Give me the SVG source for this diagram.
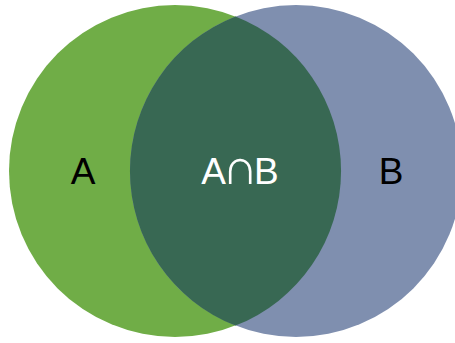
<svg xmlns="http://www.w3.org/2000/svg" width="455" height="343" viewBox="0 0 455 343">
<style>
.lbl{font-family:"Liberation Sans",Arial,sans-serif;font-size:37px;text-anchor:middle}
</style>
<g id="setA"><circle cx="175" cy="171" r="166" fill="#70AD47"/></g>
<g id="setB"><circle cx="296" cy="171" r="166" fill="#7F8FAF"/></g>
<g id="intersection"><path d="M235.5 16.4 A166 166 0 0 1 235.5 325.6 A166 166 0 0 1 235.5 16.4 Z" fill="#386853"/></g>
<g id="labels">
<text class="lbl" x="83" y="184" fill="#000">A</text>
<text class="lbl" x="238" y="184" fill="#fff" letter-spacing="-4">A<tspan font-size="50">∩</tspan>B</text>
<text class="lbl" x="391" y="184" fill="#000">B</text>
</g>
</svg>
